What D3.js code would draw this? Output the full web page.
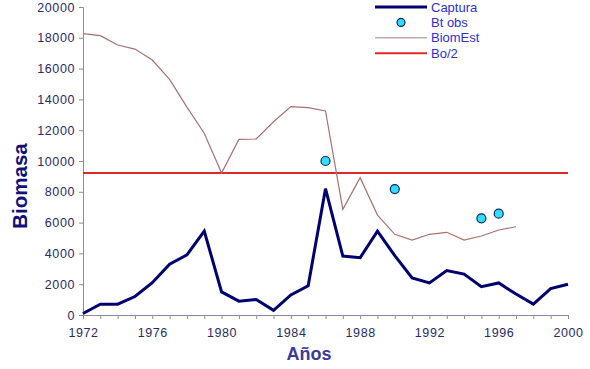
<!DOCTYPE html>
<html>
<head>
<meta charset="utf-8">
<script src="https://cdn.jsdelivr.net/npm/d3@7"></script>
<style>
  body { margin: 0; background: #fff; }
  text { font-family: "Liberation Sans", Arial, sans-serif; }
</style>
</head>
<body>
<div id="container"></div>
<script>
// data
const years = d3.range(1972, 2001)
const captura = [100, 700, 700, 1200, 2100, 3300, 3900, 5450, 1500, 900, 1000, 300, 1300, 1900,
    8200, 3830, 3720, 5450, 3850, 2400, 2080, 2880, 2660, 1840, 2080, 1360, 710, 1710, 2000]
const biomYears = d3.range(1972, 1998)
const biomEst = [18270, 18140, 17530, 17270, 16560, 15300, 13500, 11800, 9220, 11400, 11430, 12550,
    13530, 13460, 13250, 6860, 8920, 6490, 5240, 4870, 5240, 5370, 4870, 5130, 5520, 5730]
const obsYears = [1986, 1990, 1995, 1996]
const btObs = [10000, 8180, 6280, 6580]
const bo2 = 9220
const yTicks = d3.range(0, 20001, 2000)
const xTicks = [1972, 1976, 1980, 1984, 1988, 1992, 1996, 2000]
const legendItems = ["Captura", "Bt obs", "BiomEst", "Bo/2"]

const w = 590, h = 369
const m = { top: 7, right: 22, bottom: 54, left: 83 }

const svg = d3.select("#container").append("svg")
    .attr("width", w).attr("height", h)

const x = d3.scaleLinear().domain([1972, 2000]).range([m.left, w - m.right])
const y = d3.scaleLinear().domain([0, 20000]).range([h - m.bottom, m.top])

const axisColor = "#8a8aaa"
const labelColor = "#2a2a6a"

// y axis
const yAxis = svg.append("g")
    .attr("transform", `translate(${m.left},0)`)
    .call(d3.axisLeft(y).tickValues(yTicks).tickSize(4).tickPadding(4).tickFormat(d3.format("d")))
yAxis.select(".domain").attr("stroke", axisColor)
yAxis.selectAll(".tick line").attr("stroke", axisColor)
yAxis.selectAll(".tick text")
    .attr("fill", labelColor).style("font-size", "12.5px").style("letter-spacing", "0.6px")
    .style("font-family", "'Liberation Sans', Arial, sans-serif")

// x axis
const xAxis = svg.append("g")
    .attr("transform", `translate(0,${h - m.bottom})`)
    .call(d3.axisBottom(x).tickValues(years).tickSize(4).tickPadding(9)
        .tickFormat(d => xTicks.includes(d) ? d : ""))
xAxis.select(".domain").attr("stroke", axisColor)
xAxis.selectAll(".tick line").attr("stroke", axisColor)
xAxis.selectAll(".tick text")
    .attr("fill", labelColor).style("font-size", "12.5px").style("letter-spacing", "0.6px")
    .style("font-family", "'Liberation Sans', Arial, sans-serif")

// Bo/2
svg.append("line")
    .attr("x1", x(1972)).attr("x2", x(2000))
    .attr("y1", y(bo2)).attr("y2", y(bo2))
    .attr("stroke", "#e02828").attr("stroke-width", 2)

// BiomEst
const line = d3.line().x(d => x(d[0])).y(d => y(d[1]))
svg.append("path")
    .datum(biomYears.map((yr, i) => [yr, biomEst[i]]))
    .attr("d", line)
    .attr("fill", "none").attr("stroke", "#a87272").attr("stroke-width", 1.2)

// Captura
svg.append("path")
    .datum(years.map((yr, i) => [yr, captura[i]]))
    .attr("d", line)
    .attr("fill", "none").attr("stroke", "#000070").attr("stroke-width", 3)
    .attr("stroke-linejoin", "miter")

// Bt obs
svg.selectAll("circle.obs")
    .data(obsYears.map((yr, i) => [yr, btObs[i]]))
    .join("circle")
    .attr("class", "obs")
    .attr("cx", d => x(d[0])).attr("cy", d => y(d[1]))
    .attr("r", 4.5)
    .attr("fill", "#33ddf5").attr("stroke", "#0a2a6a").attr("stroke-width", 1.2)

// axis titles
svg.append("text")
    .attr("transform", "translate(27,186) rotate(-90)")
    .attr("text-anchor", "middle")
    .attr("fill", "#10107a")
    .style("font-size", "20.5px").style("font-weight", "bold")
    .text("Biomasa")

svg.append("text")
    .attr("x", 309).attr("y", 360)
    .attr("text-anchor", "middle")
    .attr("fill", "#3a3a9a")
    .style("font-size", "18px").style("font-weight", "bold")
    .text("Años")

// legend
const legend = svg.append("g").attr("transform", "translate(375,7)")
const rowH = 15.4
legendItems.forEach((name, i) => {
    const g = legend.append("g").attr("transform", `translate(0,${i * rowH})`)
    if (name === "Bt obs") {
        g.append("circle").attr("cx", 26).attr("cy", 0).attr("r", 4)
            .attr("fill", "#33ddf5").attr("stroke", "#0a2a6a").attr("stroke-width", 1.2)
    } else {
        const style = {
            "Captura": ["#000070", 3],
            "BiomEst": ["#c4aaaa", 1.5],
            "Bo/2": ["#e02828", 2]
        }[name]
        g.append("line").attr("x1", 0).attr("x2", 52).attr("y1", 0).attr("y2", 0)
            .attr("stroke", style[0]).attr("stroke-width", style[1])
    }
    g.append("text").attr("x", 56).attr("y", 4.5)
        .attr("fill", "#3030d0").style("font-size", "13px")
        .text(name)
})
</script>
</body>
</html>
